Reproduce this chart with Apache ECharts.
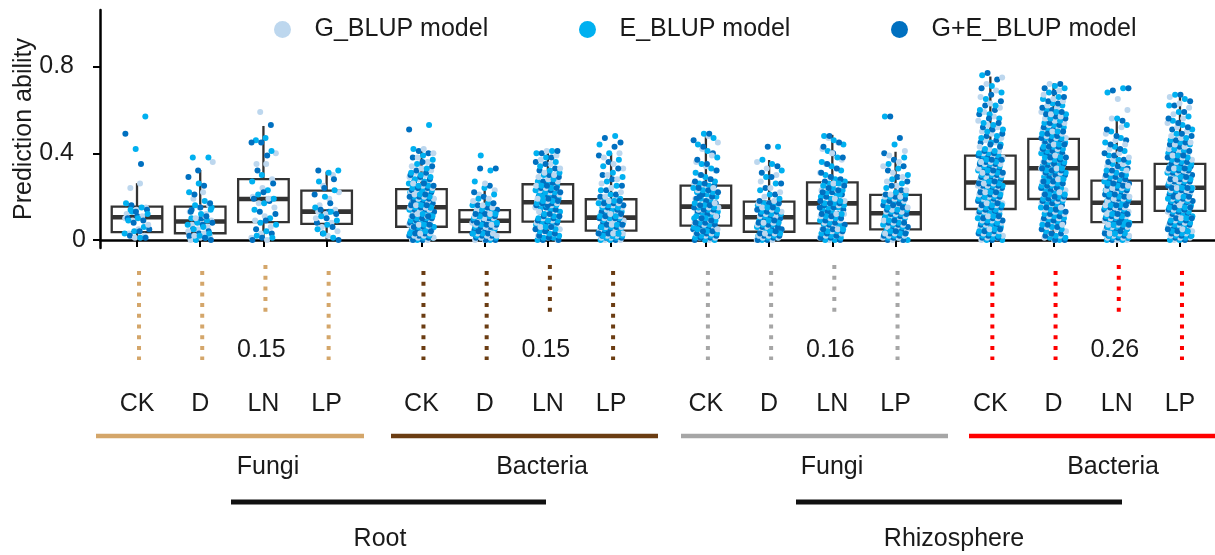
<!DOCTYPE html>
<html>
<head>
<meta charset="utf-8">
<script src="https://cdn.jsdelivr.net/npm/echarts@6/dist/echarts.min.js"></script>
<style>
html,body{margin:0;padding:0;background:#fff;}
#main{width:1215px;height:555px;}
</style>
</head>
<body>
<div id="main"></div>
<script>
// ---------- DATA ----------
const modelNames = ['G_BLUP model', 'E_BLUP model', 'G+E_BLUP model'];
const conditions = ['CK', 'D', 'LN', 'LP'];
const organisms = ['Fungi', 'Bacteria', 'Fungi', 'Bacteria'];
const compartments = ['Root', 'Rhizosphere'];
const groupMeans = [0.15, 0.15, 0.16, 0.26];
const yTicks = [0, 0.4, 0.8];

// box statistics per category (Root-Fungi CK..LP, Root-Bacteria, Rhizo-Fungi, Rhizo-Bacteria)
const boxMin = [0, 0, 0, 0, 0, 0, 0, 0, 0, 0, 0, 0, 0, 0, 0, 0];
const boxQ1  = [0.036, 0.031, 0.082, 0.074, 0.061, 0.036, 0.085, 0.043, 0.066, 0.038, 0.077, 0.049, 0.143, 0.189, 0.082, 0.134];
const boxMed = [0.105, 0.085, 0.189, 0.131, 0.151, 0.089, 0.174, 0.103, 0.154, 0.105, 0.169, 0.123, 0.265, 0.331, 0.172, 0.241];
const boxQ3  = [0.154, 0.154, 0.281, 0.228, 0.235, 0.138, 0.257, 0.188, 0.251, 0.177, 0.266, 0.208, 0.389, 0.466, 0.274, 0.351];
const boxMax = [0.262, 0.323, 0.526, 0.315, 0.420, 0.269, 0.412, 0.400, 0.492, 0.369, 0.485, 0.407, 0.754, 0.723, 0.560, 0.661];

// prediction ability of individual runs, in hundredths (value = n / 100)
const gBlup = [
 [26,24,15,14,12,11,9,7,5,3,2,1,10],
 [36,22,19,16,15,13,11,10,9,8,7,6,5,4,3,2,2,1,0,12],
 [59,40,35,35,28,24,20,19,17,15,11,9,6,3,1,0],
 [30,25,22,19,16,14,12,10,8,6,4,2,13],
 [0,0,1,1,2,2,3,3,4,4,5,5,6,6,6,7,7,8,9,9,10,11,11,12,12,13,13,14,14,15,15,16,16,17,18,18,19,19,20,21,21,22,22,23,23,24,25,26,27,28,29,30,31,32,33,34,36,38,40,42],
 [0,0,1,1,2,2,3,3,4,4,5,5,6,6,7,7,8,8,9,9,10,10,11,12,12,13,13,14,15,16,18,19,21,23,26],
 [0,1,2,3,4,5,6,6,7,8,8,9,10,11,12,13,14,15,15,16,17,17,18,19,19,20,21,22,23,24,24,25,25,26,27,28,29,30,31,33,35,37,39,41,18],
 [0,0,1,1,2,2,3,3,3,4,4,5,5,6,6,7,7,8,8,9,9,10,11,12,12,13,14,15,16,16,17,18,18,19,20,22,24,26,28,30,33,35,38,40,9],
 [0,1,1,2,3,3,4,5,5,6,6,7,8,9,10,11,12,13,13,14,15,15,16,17,18,19,20,21,22,23,23,24,25,26,28,30,32,34,36,39,42,45,48,14],
 [0,0,1,1,2,2,3,3,4,4,5,6,6,7,8,8,9,10,11,11,12,13,14,15,16,17,17,18,20,22,24,27,30,33,36],
 [0,1,2,2,3,4,5,5,6,7,7,8,9,10,11,12,13,14,15,16,16,17,18,19,20,21,22,23,23,24,25,26,26,27,29,31,33,35,37,40,42,45,47,12],
 [0,0,1,1,2,2,3,3,4,4,5,6,6,7,8,9,10,10,11,12,13,13,14,15,16,17,18,19,20,20,21,23,25,27,29,31,34,36,39,41],
 [0,1,1,2,3,3,4,5,6,6,7,8,9,9,10,11,12,12,13,14,15,15,16,17,17,18,19,19,20,21,21,22,22,23,24,24,25,25,26,26,27,27,28,29,29,30,31,31,32,33,33,34,35,35,36,36,37,38,38,39,40,41,42,43,45,46,47,49,50,52,53,55,57,59,61,63,66,69,72,75],
 [0,1,2,3,4,5,6,7,8,9,10,11,12,13,14,15,16,17,18,19,19,20,21,22,22,23,24,25,26,26,27,28,29,29,30,31,31,32,33,33,34,34,35,36,37,37,38,39,39,40,41,42,42,43,44,44,45,46,46,47,47,48,49,50,51,52,53,54,55,56,57,58,59,61,62,64,65,67,69,72],
 [0,0,1,1,2,2,3,3,4,4,5,5,6,6,7,7,8,9,9,10,10,11,11,12,12,13,13,14,14,15,15,16,16,17,17,18,18,19,19,20,21,21,22,22,23,24,24,25,25,26,27,28,29,30,31,32,33,34,35,37,38,40,42,44,46,49,52,56,60,65],
 [0,1,1,2,3,3,4,5,5,6,7,7,8,9,10,10,11,12,12,13,14,14,15,16,16,17,17,18,18,19,19,20,20,21,21,22,22,23,23,24,24,25,26,26,27,27,28,28,29,29,30,31,31,32,32,33,33,34,34,35,36,37,38,39,40,41,42,43,44,45,47,48,50,52,54,56,58,61,63,66]
];
const eBlup = [
 [57,42,17,15,13,12,10,9,6,4,3,1,14],
 [38,38,26,22,18,16,14,12,10,9,8,7,6,5,3,2,1,1,0,15],
 [47,46,41,30,27,23,21,19,17,14,10,8,7,4,2,1],
 [32,31,27,23,20,15,13,11,9,7,5,1,3],
 [0,1,1,2,2,3,3,4,4,5,5,5,6,6,6,7,7,8,8,9,10,10,11,12,12,13,13,14,15,15,15,16,17,17,18,19,19,20,20,21,22,22,23,23,23,24,25,25,26,27,28,29,30,31,33,35,37,39,42,53],
 [0,1,1,2,2,3,3,3,4,4,5,6,6,7,7,8,8,9,9,10,10,11,11,12,13,13,14,14,16,17,19,21,24,27,32,39],
 [0,1,1,2,3,4,5,6,7,7,8,9,9,10,11,12,13,14,15,16,16,17,18,18,19,20,21,22,22,23,24,25,25,26,27,28,30,31,32,34,36,38,40,41,20],
 [0,0,1,1,2,2,2,3,3,4,4,5,5,6,6,7,8,8,9,9,10,10,11,11,12,13,14,15,15,16,17,18,18,19,21,23,25,27,29,31,34,37,40,44,48],
 [0,0,1,2,2,3,4,5,5,6,6,7,8,9,10,11,11,12,13,14,15,15,16,17,18,19,20,21,22,22,23,24,25,26,27,29,31,33,35,38,41,44,47,49,10],
 [0,1,1,2,2,3,3,4,4,5,5,6,7,7,8,9,9,10,11,12,12,13,14,15,16,16,17,19,21,23,26,29,32,35,37,43],
 [0,0,1,2,3,4,4,5,6,7,7,8,9,10,11,12,13,14,15,15,16,17,17,18,19,20,21,22,23,24,25,26,26,27,28,30,32,34,36,38,41,44,46,48,21],
 [0,1,1,2,2,3,3,4,4,5,5,6,7,7,8,9,10,11,11,12,13,14,14,15,16,17,18,19,20,21,22,24,26,28,30,33,35,38,44,57],
 [0,0,1,2,2,3,4,5,5,6,7,8,8,9,10,11,11,12,13,14,14,15,16,16,17,18,18,19,20,20,21,22,23,23,24,25,25,26,26,27,27,28,28,29,30,30,31,32,32,33,34,34,35,36,36,37,37,38,39,39,40,40,41,42,44,45,47,48,50,51,53,54,56,58,60,62,65,68,71,76],
 [0,1,1,2,4,5,6,7,8,9,10,11,12,13,14,15,16,17,18,19,19,20,21,21,22,23,24,25,25,26,27,28,28,29,30,31,31,32,32,33,33,34,35,36,36,37,38,38,39,40,41,41,42,43,43,44,45,45,46,47,47,48,49,50,51,52,53,54,55,56,58,59,60,62,63,65,66,68,70,71],
 [0,0,1,1,2,2,3,3,4,4,5,5,6,6,7,7,8,8,9,9,10,11,11,12,12,13,14,14,15,15,16,16,17,17,18,18,19,19,20,21,21,22,23,23,24,24,25,26,26,27,27,28,29,30,31,32,33,35,36,37,39,41,43,45,47,50,53,56,68,70],
 [0,0,1,2,2,3,4,4,5,6,6,7,8,9,9,10,11,11,12,13,13,14,15,15,16,16,17,18,18,19,19,20,21,21,22,22,23,23,24,24,25,25,26,26,27,28,28,29,29,30,30,31,32,32,33,33,34,34,35,35,36,37,38,39,40,41,42,44,45,46,47,49,51,53,55,57,59,62,65,67]
];
const geBlup = [
 [49,35,16,14,11,10,9,8,5,4,2,1,13],
 [32,29,25,21,17,15,13,11,9,8,7,5,4,3,2,1,1,0,10,14],
 [53,45,45,39,32,26,22,19,18,13,12,9,5,3,1,0],
 [32,28,24,21,17,14,12,10,8,6,3,0,13],
 [0,0,1,2,2,3,3,4,4,4,5,5,6,6,6,7,8,8,9,9,10,10,11,11,12,13,14,14,15,15,16,16,17,17,18,18,19,20,20,21,22,22,23,23,24,24,25,26,27,28,29,30,31,32,34,36,38,40,41,51],
 [0,0,1,2,2,3,3,4,4,5,5,6,6,7,7,8,8,9,9,10,11,11,12,12,13,13,14,15,16,17,20,22,25,33,33],
 [0,0,1,2,3,4,5,6,7,8,8,9,10,11,11,12,13,14,15,16,17,17,18,19,20,20,21,22,23,24,24,25,25,26,27,29,30,32,33,35,36,38,40,41,16],
 [0,1,1,2,2,3,3,3,4,4,4,5,6,6,7,7,8,8,9,9,10,10,11,12,13,13,14,15,16,17,17,18,18,20,21,23,25,28,30,33,36,39,43,47,45],
 [0,1,1,2,3,3,4,4,5,6,6,7,8,8,9,10,11,12,13,14,14,15,16,16,17,18,19,20,21,22,23,24,25,26,27,28,30,32,35,37,40,43,46,49,20],
 [0,0,1,2,2,3,3,4,4,5,5,6,6,7,8,9,10,10,11,12,13,13,14,15,16,17,17,18,21,24,26,29,31,34,43],
 [0,1,1,2,3,4,5,5,6,7,7,8,9,10,11,12,12,13,14,15,16,17,17,18,19,20,21,22,22,23,24,25,26,27,28,29,31,33,35,38,40,43,45,48,15],
 [0,0,1,2,2,3,3,4,4,5,5,6,7,8,8,9,10,11,12,12,13,14,15,16,16,17,18,19,20,21,23,25,27,29,32,34,37,40,47,57],
 [0,1,1,2,3,4,4,5,6,7,7,8,9,10,10,11,12,13,13,14,15,15,16,17,18,18,19,20,20,21,22,22,23,24,24,25,25,26,26,27,27,28,29,29,30,31,31,32,33,33,34,35,35,36,37,37,38,38,39,39,40,41,43,44,45,46,48,49,51,52,54,56,58,60,62,64,67,70,74,77],
 [0,0,2,3,3,5,6,7,8,9,10,11,12,13,14,15,16,17,18,19,19,20,20,21,22,23,24,24,25,26,27,27,28,29,30,30,31,32,32,33,34,34,35,35,36,37,38,38,39,40,40,41,42,43,43,44,45,45,46,46,47,48,49,50,51,52,53,54,56,57,58,59,60,61,63,64,66,68,70,72],
 [0,1,1,2,2,3,3,4,4,5,5,6,6,7,7,8,8,9,9,10,10,11,12,12,13,13,14,14,15,15,16,16,17,17,18,18,19,20,20,21,21,22,23,23,24,25,25,26,26,27,27,28,29,30,30,32,33,34,36,37,39,40,42,44,46,48,51,55,69,70],
 [0,1,2,2,3,4,4,5,6,6,7,8,8,9,10,10,11,12,12,13,14,14,15,15,16,17,17,18,18,19,20,20,21,21,22,22,23,23,24,24,25,25,26,27,27,28,28,29,29,30,31,31,32,32,33,33,34,34,35,35,36,37,38,39,40,41,43,44,45,46,48,49,51,52,54,56,59,62,64,67]
];

// ---------- LAYOUT / STYLE ----------
const catPos = [1, 2, 3, 4, 5.5, 6.5, 7.5, 8.5, 10, 11, 12, 13, 14.5, 15.5, 16.5, 17.5];
const modelColors = ['#BDD7EE', '#00B0F0', '#0070C0'];
const groupColors = ['#D4A66A', '#6B3D12', '#A6A6A6', '#FF0000'];
const FONT = '"Liberation Sans", Arial, Helvetica, sans-serif';
const TXT = '#1a1a1a';

const chart = echarts.init(document.getElementById('main'), null, { renderer: 'canvas' });

const posLabel = {};
catPos.forEach((p, i) => { posLabel[p] = conditions[i % 4]; });

const boxData = catPos.map((p, i) => [p, boxMin[i], boxQ1[i], boxMed[i], boxQ3[i], boxMax[i]]);

function renderBox(params, api) {
  const x = api.value(0);
  const lo = api.coord([x - 0.4, api.value(2)]);
  const hi = api.coord([x + 0.4, api.value(4)]);
  const med = api.coord([x, api.value(3)]);
  const wMin = api.coord([x, api.value(1)]);
  const wMax = api.coord([x, api.value(5)]);
  const st = { stroke: '#333333', lineWidth: 2.3, fill: 'none' };
  return {
    type: 'group',
    children: [
      { type: 'line', shape: { x1: wMax[0], y1: wMax[1], x2: wMax[0], y2: hi[1] }, style: st },
      { type: 'line', shape: { x1: wMin[0], y1: wMin[1], x2: wMin[0], y2: lo[1] }, style: st },
      { type: 'rect', shape: { x: lo[0], y: hi[1], width: hi[0] - lo[0], height: lo[1] - hi[1] }, style: { stroke: '#333333', lineWidth: 2.3, fill: '#ffffff' } },
      { type: 'line', shape: { x1: lo[0], y1: med[1], x2: hi[0], y2: med[1] }, style: { stroke: '#333333', lineWidth: 4.6 } }
    ]
  };
}

const series = [{
  type: 'custom', name: 'box', renderItem: renderBox, data: boxData, z: 1, silent: true,
  encode: { x: 0, y: [1, 2, 3, 4, 5] }, clip: false
}];

const models = [gBlup, eBlup, geBlup];
const K = 8; // interleave drawing order of the three models
for (let j = 0; j < K; j++) {
  for (let m = 0; m < 3; m++) {
    const data = [];
    models[m].forEach((arr, c) => {
      arr.forEach((v, i) => {
        if (i % K !== j) return;
        const jit = ((((i + 1) * 0.6180339887 + m * 0.211 + c * 0.377) % 1) - 0.5) * 0.4;
        data.push([catPos[c] + jit, v / 100]);
      });
    });
    series.push({
      type: 'scatter', name: modelNames[m], data: data, symbolSize: 6, z: 2, silent: true,
      itemStyle: { color: modelColors[m], opacity: 1 }
    });
  }
}

const legendBase = {
  top: 17, icon: 'circle', itemWidth: 54, itemHeight: 17, padding: 0,
  textStyle: { fontSize: 25, color: TXT, fontFamily: FONT }, selectedMode: false
};

chart.setOption({
  animation: false,
  backgroundColor: '#ffffff',
  legend: [
    Object.assign({}, legendBase, { left: 274, data: [modelNames[0]] }),
    Object.assign({}, legendBase, { left: 579, data: [modelNames[1]] }),
    Object.assign({}, legendBase, { left: 891, data: [modelNames[2]] })
  ],
  grid: { left: 100, right: 0, top: 10, bottom: 307, containLabel: false },
  xAxis: {
    type: 'value', min: 0.4145, max: 18.054,
    splitLine: { show: false },
    axisLine: { show: true, lineStyle: { color: '#000', width: 2.5 } },
    axisTick: { show: true, length: 7, lineStyle: { color: '#000', width: 2 }, customValues: catPos },
    axisLabel: {
      show: true, customValues: catPos, margin: 144, fontSize: 25, color: TXT, fontFamily: FONT,
      formatter: v => posLabel[v] || ''
    }
  },
  yAxis: {
    type: 'value', min: -0.037, max: 1.061,
    name: 'Prediction ability', nameLocation: 'middle', nameGap: 63,
    nameTextStyle: { fontSize: 25, color: TXT, fontFamily: FONT },
    splitLine: { show: false },
    axisLine: { show: true, lineStyle: { color: '#000', width: 2.5 } },
    axisTick: { show: true, length: 7, lineStyle: { color: '#000', width: 2 }, customValues: yTicks },
    axisLabel: { show: false }
  },
  series: series
});

// ---------- annotations ----------
const px = p => chart.convertToPixel({ xAxisIndex: 0 }, p);
const py = v => chart.convertToPixel({ yAxisIndex: 0 }, v);
const graphics = [];
// y tick labels (the "0" label sits further right, as in the reference)
yTicks.forEach(v => {
  graphics.push({
    type: 'text', silent: true, x: v === 0 ? 86 : 74, y: py(v),
    style: { text: String(v), fontSize: 25, fill: TXT, fontFamily: FONT, textAlign: 'right', textVerticalAlign: 'middle' }
  });
});
catPos.forEach((p, i) => {
  const g = Math.floor(i / 4);
  const isLN = (i % 4) === 2;
  const x = px(p) + 2;
  graphics.push({
    type: 'line', silent: true,
    shape: { x1: x, y1: isLN ? 265 : 271, x2: x, y2: isLN ? 312 : 360 },
    style: { stroke: groupColors[g], lineWidth: 4, lineDash: [4, 6.7] }
  });
});
groupMeans.forEach((v, g) => {
  graphics.push({
    type: 'text', silent: true, x: px(catPos[g * 4 + 2]) - 2, y: 350,
    style: { text: v.toFixed(2), fontSize: 25, fill: TXT, fontFamily: FONT, textAlign: 'center', textVerticalAlign: 'middle' }
  });
});
const groupLineSpan = [[96, 364], [391, 658], [681, 948], [969, 1215]];
const groupLabelX = [268, 542, 832, 1113];
groupLineSpan.forEach((s, g) => {
  graphics.push({ type: 'line', silent: true, shape: { x1: s[0], y1: 436, x2: s[1], y2: 436 }, style: { stroke: groupColors[g], lineWidth: 4.5 } });
  graphics.push({
    type: 'text', silent: true, x: groupLabelX[g], y: 467,
    style: { text: organisms[g], fontSize: 25, fill: TXT, fontFamily: FONT, textAlign: 'center', textVerticalAlign: 'middle' }
  });
});
const compLineSpan = [[231, 546], [796, 1122]];
const compLabelX = [380, 954];
compLineSpan.forEach((s, k) => {
  graphics.push({ type: 'line', silent: true, shape: { x1: s[0], y1: 502, x2: s[1], y2: 502 }, style: { stroke: '#111', lineWidth: 5 } });
  graphics.push({
    type: 'text', silent: true, x: compLabelX[k], y: 539,
    style: { text: compartments[k], fontSize: 25, fill: TXT, fontFamily: FONT, textAlign: 'center', textVerticalAlign: 'middle' }
  });
});
chart.setOption({ graphic: graphics });
</script>
</body>
</html>
